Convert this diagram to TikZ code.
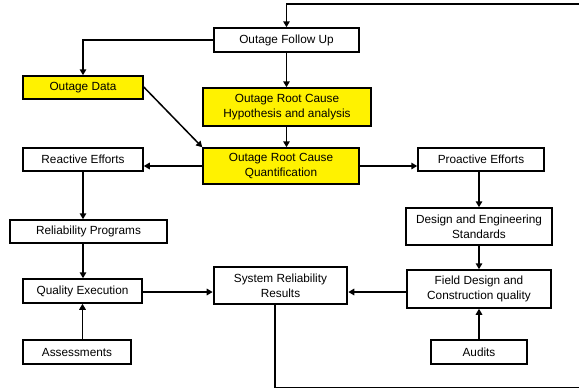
\documentclass[tikz,border=0pt]{standalone}
\usepackage{fontspec}
\setmainfont{Liberation Sans}
\usetikzlibrary{arrows.meta}
\begin{document}
\begin{tikzpicture}[x=1pt,y=-1pt,
  box/.style={draw=black, line width=1.5pt, fill=white, align=center,
    inner sep=0pt, font=\fontsize{11.8}{15}\selectfont},
  hl/.style={box, fill=yellow},
  sysbox/.style={box, line width=2.6pt},
  link/.style={draw=black, line width=1.5pt, -{Triangle[length=6pt,width=6.5pt]}},
]
\useasboundingbox (0,0) rectangle (579,389);

% boxes
\node[box, minimum width=145pt, minimum height=24pt] (fu) at (286.5,40) {Outage Follow Up};
\node[hl, minimum width=120pt, minimum height=23pt] (od) at (83,87.5) {Outage Data};
\node[hl, minimum width=168pt, minimum height=38pt] (hyp) at (287,107) {Outage Root Cause\\Hypothesis and analysis};
\node[hl, minimum width=156pt, minimum height=36pt] (quant) at (281,166) {Outage Root Cause\\Quantification};
\node[box, minimum width=120pt, minimum height=23pt] (re) at (83,159.5) {Reactive Efforts};
\node[box, minimum width=126pt, minimum height=23pt] (pe) at (481,159.5) {Proactive Efforts};
\node[box, minimum width=146pt, minimum height=37pt] (des) at (479,226.5) {Design and Engineering\\Standards};
\node[box, minimum width=144pt, minimum height=38pt] (fld) at (479,289) {Field Design and\\Construction quality};
\node[box, minimum width=96pt, minimum height=24pt] (aud) at (479,352) {Audits};
\node[sysbox, minimum width=133pt, minimum height=37pt] (sys) at (280.5,285.5) {System Reliability\\Results};
\node[box, minimum width=157pt, minimum height=23pt] (rp) at (88.5,231.5) {Reliability Programs};
\node[box, minimum width=119pt, minimum height=24pt] (qe) at (82.5,291) {Quality Execution};
\node[box, minimum width=108pt, minimum height=24pt] (as) at (77,352) {Assessments};

% feedback loop and corners
\coordinate (fbdown) at ([xshift=-5.5pt]sys.south);
\coordinate (odtop) at (83,0);

% connectors
\draw[link] (fu.west) -| (od.north);
\draw[link] (fu.south) -- (fu.south |- hyp.north);
\draw[link] (fu.south |- hyp.south) -- (fu.south |- quant.north);
\draw[link] ([yshift=0.5pt]od.east) -- (quant.north west);
\draw[link] (quant.west) -- (quant.west -| re.east);
\draw[link] (quant.east) -- (quant.east -| pe.west);
\draw[link] (re.south) -- (re.south |- rp.north);
\draw[link] (re.south |- rp.south) -- (re.south |- qe.north);
\draw[link] (qe.south |- as.north) -- (qe.south);
\draw[link] (qe.east |- 0,292) -- (sys.west |- 0,292);
\draw[link] (pe.south -| des.north) -- (des.north);
\draw[link] (des.south) -- (fld.north);
\draw[link] (aud.north) -- (fld.south);
\draw[link] (fld.west |- 0,292) -- (sys.east |- 0,292);
\draw[link] (fbdown) -- (fbdown |- 0,387.5) -- (586,387.5) -- (586,4) -- (fu.north |- 0,4) -- (fu.north);
\end{tikzpicture}
\end{document}
